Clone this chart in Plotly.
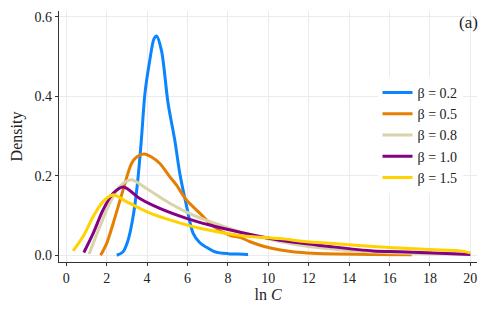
import plotly.graph_objects as go

# ---- data ----
labels = ["β = 0.2", "β = 0.5", "β = 0.8", "β = 1.0", "β = 1.5"]
colors = ["#0a84ff", "#e67e00", "#d8d3a8", "#850085", "#ffd200"]

x_b02 = [2.5, 2.8, 3.06, 3.3, 3.5, 3.7, 3.9, 4.13, 4.35, 4.47, 4.71, 5.04, 5.37, 5.62, 5.95, 6.28, 6.6, 6.94, 7.3, 7.6, 8.0, 8.5, 9.0]
y_b02 = [0.0, 0.008, 0.038, 0.095, 0.17, 0.28, 0.41, 0.49, 0.546, 0.552, 0.516, 0.382, 0.29, 0.206, 0.125, 0.055, 0.032, 0.02, 0.01, 0.006, 0.004, 0.003, 0.002]

x_b05 = [1.7, 2.0, 2.32, 2.81, 3.23, 3.5, 3.85, 4.2, 4.63, 5.12, 5.45, 5.95, 6.61, 7.3, 8.1, 8.6, 9.1, 9.8, 10.6, 11.3, 12.2, 13.5, 15.0, 17.1]
y_b05 = [0.0, 0.03, 0.08, 0.164, 0.231, 0.248, 0.255, 0.248, 0.231, 0.198, 0.177, 0.139, 0.106, 0.072, 0.05, 0.045, 0.034, 0.022, 0.013, 0.008, 0.005, 0.003, 0.002, 0.001]

x_b08 = [1.13, 1.66, 2.15, 2.65, 3.2, 3.97, 5.12, 6.28, 7.6, 8.9, 10.5, 12.0, 14.5, 17.0, 19.5]
y_b08 = [0.003, 0.072, 0.131, 0.173, 0.19, 0.168, 0.131, 0.101, 0.076, 0.055, 0.035, 0.022, 0.01, 0.005, 0.003]

x_b10 = [0.87, 1.33, 1.82, 2.32, 2.83, 3.64, 4.63, 5.95, 7.1, 8.59, 10.57, 11.9, 13.04, 15.2, 16.5, 18.5, 20.0]
y_b10 = [0.007, 0.055, 0.114, 0.156, 0.172, 0.143, 0.118, 0.093, 0.076, 0.058, 0.038, 0.029, 0.022, 0.011, 0.009, 0.005, 0.002]

x_b15 = [0.34, 0.83, 1.33, 1.82, 2.3, 2.98, 3.97, 5.12, 6.61, 8.59, 10.57, 11.9, 13.04, 15.2, 16.5, 18.5, 19.5, 20.0]
y_b15 = [0.011, 0.047, 0.097, 0.135, 0.152, 0.135, 0.11, 0.089, 0.068, 0.05, 0.042, 0.034, 0.03, 0.022, 0.018, 0.013, 0.011, 0.006]

xs = [x_b02, x_b05, x_b08, x_b10, x_b15]
ys = [y_b02, y_b05, y_b08, y_b10, y_b15]

x_ticks = [0, 2, 4, 6, 8, 10, 12, 14, 16, 18, 20]
y_ticks = [0.0, 0.2, 0.4, 0.6]
y_tick_text = ["0.0", "0.2", "0.4", "0.6"]

font_family = "Liberation Serif"

fig = go.Figure()
for lab, col, xv, yv in zip(labels, colors, xs, ys):
    fig.add_trace(go.Scatter(x=xv, y=yv, mode="lines", name=lab,
                             line=dict(color=col, width=3, shape="spline", smoothing=0.9)))

# the page body has an 8px margin, so the figure is sized to fit inside the window
fig.update_layout(
    width=472, height=295,
    margin=dict(l=51, r=3, t=3, b=41, autoexpand=False),
    paper_bgcolor="white", plot_bgcolor="white",
    font=dict(family=font_family, size=14, color="#222"),
    legend=dict(x=0.762, y=0.737, xanchor="left", yanchor="top",
                bgcolor="white", font=dict(size=14, family=font_family),
                tracegroupgap=0),
    xaxis=dict(range=[-0.36, 20.33], tickvals=x_ticks, showgrid=True, gridcolor="#ebebeb",
               gridwidth=1, showline=True, linecolor="#333", linewidth=1.2, automargin=False,
               ticks="outside", ticklen=3, tickcolor="#333", zeroline=False,
               tickfont=dict(family=font_family, size=14),
               title=dict(text="ln <i>C</i>", font=dict(size=16, family=font_family), standoff=1)),
    yaxis=dict(range=[-0.017, 0.615], tickvals=y_ticks, ticktext=y_tick_text, showgrid=True,
               gridcolor="#ebebeb", gridwidth=1, showline=True, linecolor="#333", linewidth=1.2,
               ticks="outside", ticklen=3, tickcolor="#333", zeroline=False, automargin=False,
               tickfont=dict(family=font_family, size=14),
               title=dict(text="Density", font=dict(size=16, family=font_family), standoff=7)),
    annotations=[dict(text="(a)", x=1.0, y=1.0, xref="paper", yref="paper",
                      xanchor="right", yanchor="top", showarrow=False, xshift=3,
                      font=dict(size=17, family=font_family, color="#222"))],
)

fig.write_html("out.html")
